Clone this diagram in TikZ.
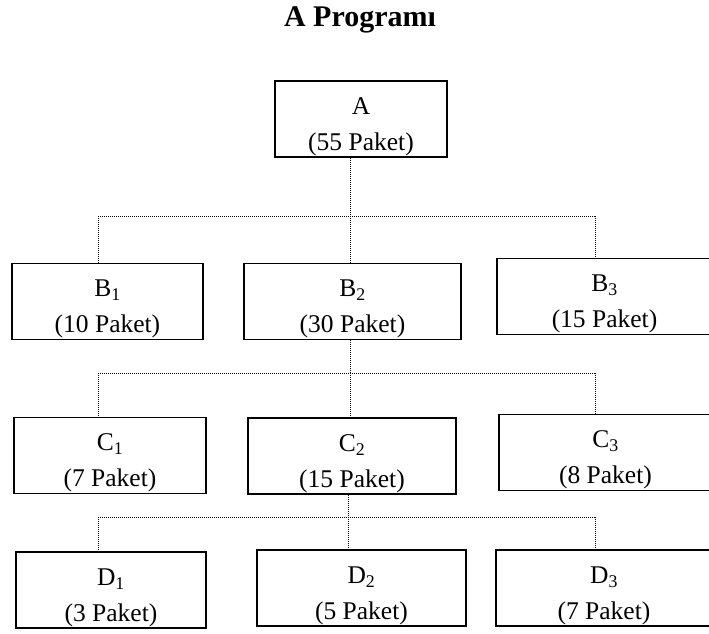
\documentclass[tikz,border=0pt]{standalone}
\usepackage{fontspec}
\setmainfont{Liberation Serif}

\newcommand{\ustpay}{\rule{0pt}{32pt}}

\begin{document}
\begin{tikzpicture}[x=1pt,y=-1pt]
\tikzstyle{paket}=[draw,rectangle,line width=1.2pt,align=center,inner sep=0pt,minimum height=76pt,font=\fontsize{25.5}{36}\selectfont]
\tikzstyle{baglanti}=[line width=0.7pt,dash pattern=on 1pt off 1pt]
\useasboundingbox (0,0) rectangle (709,634);
\node[anchor=base,font=\bfseries\fontsize{30}{32}\selectfont] (baslik) at (360,27) {A Programı};
% kutular
\node[paket,minimum width=172pt] (A) at (361,119) {\ustpay A\\(55 Paket)};
\node[paket,minimum width=191pt] (B1) at (107.5,301.5) {\ustpay B\textsubscript{1}\\(10 Paket)};
\node[paket,minimum width=217pt] (B2) at (352.5,301.5) {\ustpay B\textsubscript{2}\\(30 Paket)};
\node[paket,minimum width=215pt] (B3) at (604.5,296.5) {\ustpay B\textsubscript{3}\\(15 Paket)};
\node[paket,minimum width=192pt] (C1) at (110,455.5) {\ustpay C\textsubscript{1}\\(7 Paket)};
\node[paket,minimum width=208pt] (C2) at (352,456) {\ustpay C\textsubscript{2}\\(15 Paket)};
\node[paket,minimum width=213pt] (C3) at (605.5,452.5) {\ustpay C\textsubscript{3}\\(8 Paket)};
\node[paket,minimum width=190pt] (D1) at (111,590) {\ustpay D\textsubscript{1}\\(3 Paket)};
\node[paket,minimum width=209pt] (D2) at (361.5,588) {\ustpay D\textsubscript{2}\\(5 Paket)};
\node[paket,minimum width=216pt] (D3) at (604,588) {\ustpay D\textsubscript{3}\\(7 Paket)};
% baglantilar
\coordinate (Bsol) at (98,216);
\coordinate (Borta) at (350,216);
\coordinate (Bsag) at (595,216);
\coordinate (Csol) at (98,373);
\coordinate (Corta) at (350,373);
\coordinate (Csag) at (595,373);
\coordinate (Dsol) at (98,517);
\coordinate (Dorta) at (348,517);
\coordinate (Dsag) at (595,517);
\draw[baglanti] (A.south -| Borta) -- (Borta);
\draw[baglanti] (Bsol) -- (Bsag);
\draw[baglanti] (Bsol) -- (Bsol |- B1.north);
\draw[baglanti] (Borta) -- (Borta |- B2.north);
\draw[baglanti] (Bsag) -- (Bsag |- B3.north);
\draw[baglanti] (B2.south -| Corta) -- (Corta);
\draw[baglanti] (Csol) -- (Csag);
\draw[baglanti] (Csol) -- (Csol |- C1.north);
\draw[baglanti] (Corta) -- (Corta |- C2.north);
\draw[baglanti] (Csag) -- (Csag |- C3.north);
\draw[baglanti] (C2.south -| Dorta) -- (Dorta);
\draw[baglanti] (Dsol) -- (Dsag);
\draw[baglanti] (Dsol) -- (Dsol |- D1.north);
\draw[baglanti] (Dorta) -- (Dorta |- D2.north);
\draw[baglanti] (Dsag) -- (Dsag |- D3.north);
\end{tikzpicture}
\end{document}
